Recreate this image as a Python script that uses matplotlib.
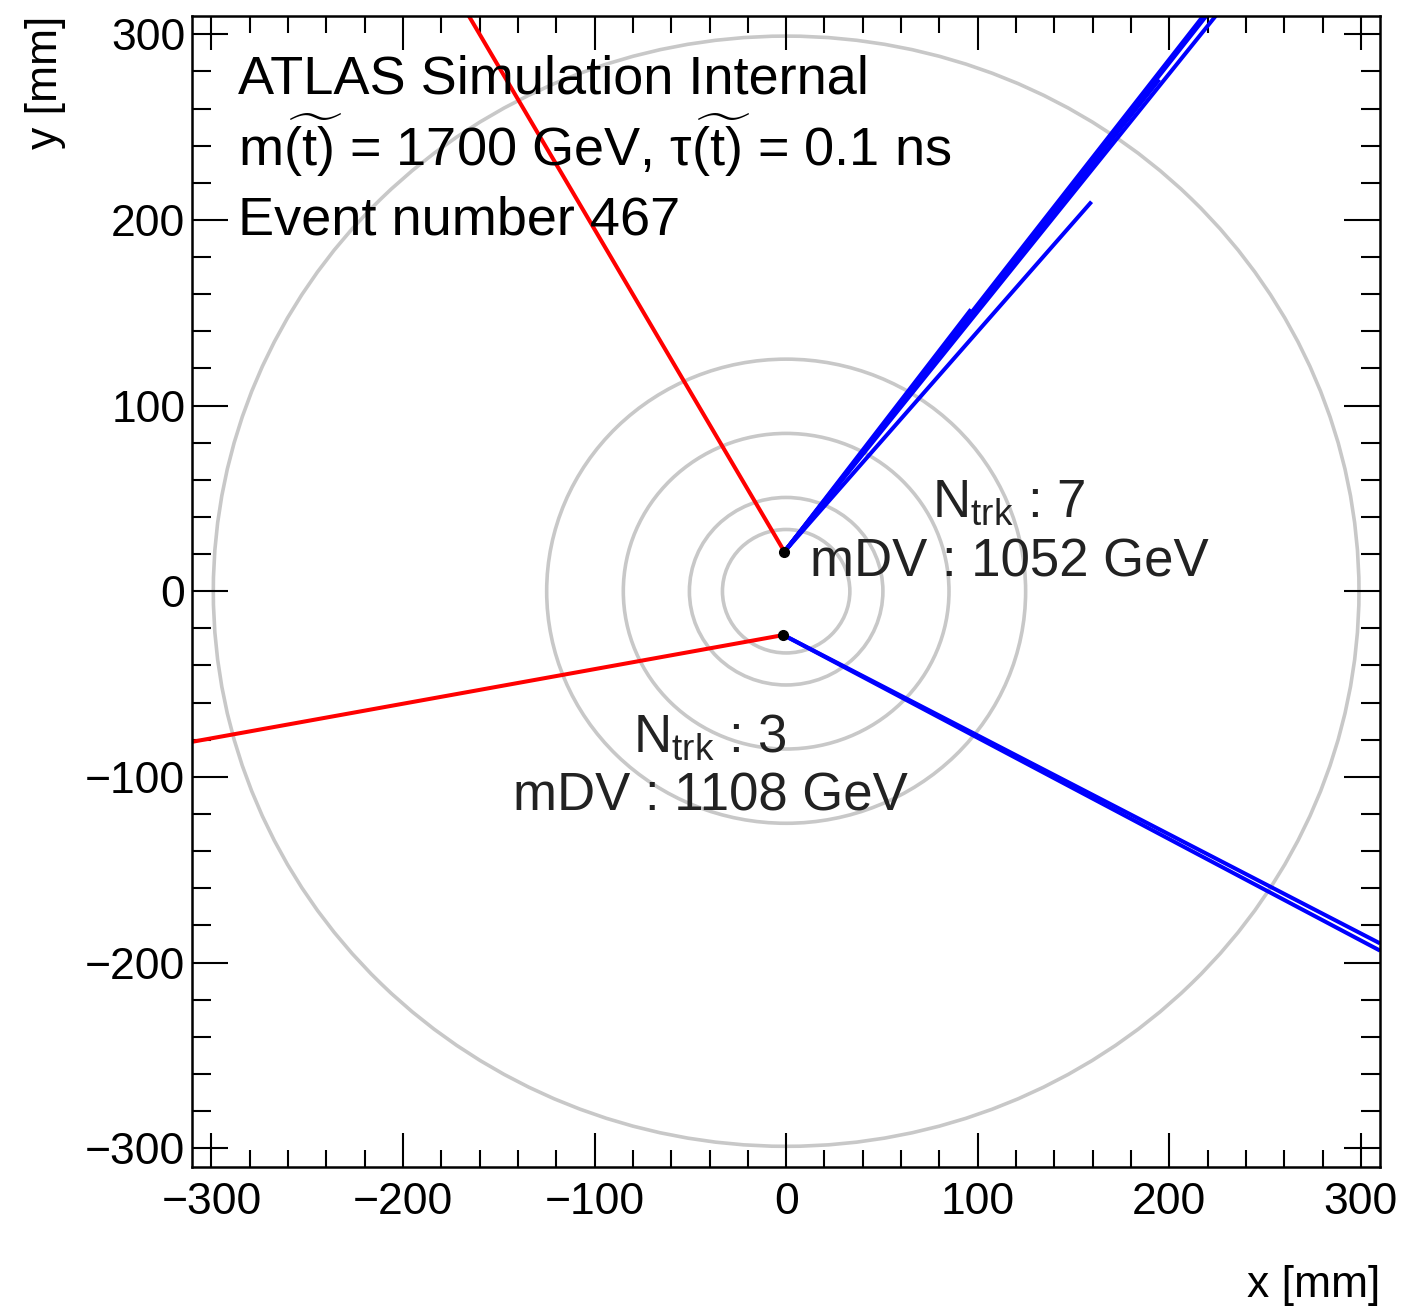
import matplotlib
matplotlib.use("Agg")
import matplotlib.pyplot as plt
from matplotlib.patches import Circle
from matplotlib.ticker import MultipleLocator

plt.rcParams["font.family"] = ["Liberation Sans", "DejaVu Sans"]
plt.rcParams["mathtext.fontset"] = "custom"
plt.rcParams["mathtext.rm"] = "Liberation Sans"
plt.rcParams["mathtext.it"] = "Liberation Sans:italic"
plt.rcParams["mathtext.bf"] = "Liberation Sans:bold"

# detector layer radii [mm]
layer_radii = [33.25, 50.5, 85.0, 125.0, 299.0]

# displaced vertices [mm]
vtx_x = [-0.9, -1.4]
vtx_y = [21.3, -23.6]

# track end points per vertex [mm]
red_end_x = [[-165.7], [-310.0]]
red_end_y = [[310.0], [-81.1]]
blue_end_x = [[219.4, 224.3, 217.8, 194.8, 96.5, 159.4], [310.0, 310.0]]
blue_end_y = [[310.0, 310.0, 310.0, 275.6, 151.8, 209.8], [-189.7, -193.6]]

# vertex labels
vtx_ntrk = [7, 3]
vtx_mass = [1052, 1108]
label_x = [116.5, -39.5]
label_y_ntrk = [40.1, -86.5]
label_y_mass = [7.8, -117.9]

fig = plt.figure(figsize=(14.22, 13.08), dpi=100)
ax = fig.add_axes([0.1352, 0.108, 0.8353, 0.880])
ax.set_xlim(-310, 310)
ax.set_ylim(-310, 310)

for r in layer_radii:
    ax.add_patch(Circle((0, 0), r, fill=False, edgecolor="#c8c8c8", linewidth=2.6, zorder=1))

for i in range(len(vtx_x)):
    for ex, ey in zip(red_end_x[i], red_end_y[i]):
        ax.plot([vtx_x[i], ex], [vtx_y[i], ey], color="#ff0000", lw=2.9, zorder=2,
                solid_capstyle="butt")
    for ex, ey in zip(blue_end_x[i], blue_end_y[i]):
        ax.plot([vtx_x[i], ex], [vtx_y[i], ey], color="#0000ff", lw=2.9, zorder=2,
                solid_capstyle="butt")
ax.plot(vtx_x, vtx_y, "o", color="black", ms=7, zorder=3)

for i in range(len(vtx_x)):
    ax.text(label_x[i], label_y_ntrk[i], r"N$_{\mathrm{trk}}$ : %d" % vtx_ntrk[i],
            ha="center", va="baseline", fontsize=38, color="#222222", zorder=4)
    ax.text(label_x[i], label_y_mass[i], "mDV : %d GeV" % vtx_mass[i],
            ha="center", va="baseline", fontsize=38, color="#222222", zorder=4)

ax.text(0.0387, 0.9326, "ATLAS Simulation Internal", transform=ax.transAxes,
        fontsize=39, va="baseline", ha="left")
ax.text(0.0387, 0.869, r"m$\widetilde{(\mathrm{t})}$ = 1700 GeV, τ$\widetilde{(\mathrm{t})}$ = 0.1 ns",
        transform=ax.transAxes, fontsize=39, va="baseline", ha="left")
ax.text(0.0387, 0.8095, "Event number 467", transform=ax.transAxes,
        fontsize=39, va="baseline", ha="left")

ax.xaxis.set_major_locator(MultipleLocator(100))
ax.xaxis.set_minor_locator(MultipleLocator(20))
ax.yaxis.set_major_locator(MultipleLocator(100))
ax.yaxis.set_minor_locator(MultipleLocator(20))
ax.tick_params(axis="both", which="both", direction="in", top=True, right=True,
               width=1.5, labelsize=32)
ax.tick_params(axis="x", which="major", length=24.5, pad=11)
ax.tick_params(axis="x", which="minor", length=12.3)
ax.tick_params(axis="y", which="major", length=26, pad=5)
ax.tick_params(axis="y", which="minor", length=13.5)
for s in ax.spines.values():
    s.set_linewidth(1.8)

ax.set_xlabel("x [mm]", fontsize=32, loc="right", labelpad=30)
ax.set_ylabel("y [mm]", fontsize=32, loc="top", labelpad=14)

fig.savefig("out.png", dpi=100)
